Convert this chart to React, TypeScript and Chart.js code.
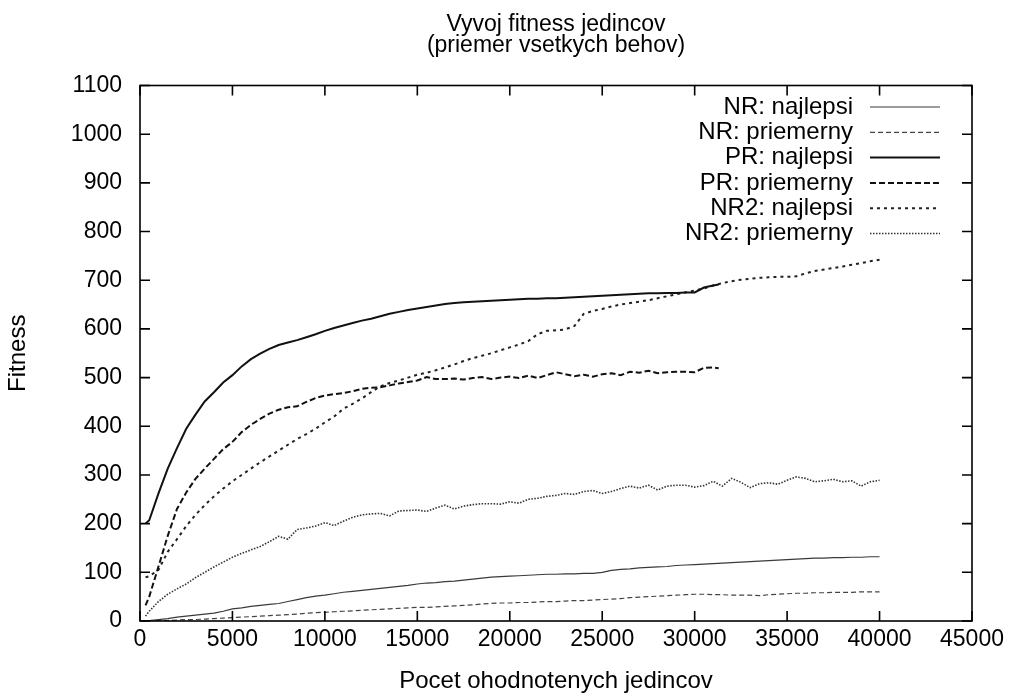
import React, { useEffect, useRef } from 'react';
import { Chart, registerables } from 'chart.js';

Chart.register(...registerables);

const TITLE = ['Vyvoj fitness jedincov', '(priemer vsetkych behov)'];
const X_TITLE = 'Pocet ohodnotenych jedincov';
const Y_TITLE = 'Fitness';
const LABELS = ['NR: najlepsi', 'NR: priemerny', 'PR: najlepsi', 'PR: priemerny', 'NR2: najlepsi', 'NR2: priemerny'];

const X_NR = [
  0, 500, 1000, 1500, 2000, 2500, 3000, 3500, 4000, 4500,
  5000, 5500, 6000, 6500, 7000, 7500, 8000, 8500, 9000, 9500,
  10000, 10500, 11000, 11500, 12000, 12500, 13000, 13500, 14000, 14500,
  15000, 15500, 16000, 16500, 17000, 17500, 18000, 18500, 19000, 19500,
  20000, 20500, 21000, 21500, 22000, 22500, 23000, 23500, 24000, 24500,
  25000, 25500, 26000, 26500, 27000, 27500, 28000, 28500, 29000, 29500,
  30000, 30500, 31000, 31500, 32000, 32500, 33000, 33500, 34000, 34500,
  35000, 35500, 36000, 36500, 37000, 37500, 38000, 38500, 39000, 39500,
  40000,
];

const X_NR2 = [
  300, 500, 1000, 1500, 2000, 2500, 3000, 3500, 4000, 4500,
  5000, 5500, 6000, 6500, 7000, 7500, 8000, 8500, 9000, 9500,
  10000, 10500, 11000, 11500, 12000, 12500, 13000, 13500, 14000, 14500,
  15000, 15500, 16000, 16500, 17000, 17500, 18000, 18500, 19000, 19500,
  20000, 20500, 21000, 21500, 22000, 22500, 23000, 23500, 24000, 24500,
  25000, 25500, 26000, 26500, 27000, 27500, 28000, 28500, 29000, 29500,
  30000, 30500, 31000, 31500, 32000, 32500, 33000, 33500, 34000, 34500,
  35000, 35500, 36000, 36500, 37000, 37500, 38000, 38500, 39000, 39500,
  40000,
];

const X_PR = [
  300, 500, 1000, 1500, 2000, 2500, 3000, 3500, 4000, 4500,
  5000, 5500, 6000, 6500, 7000, 7500, 8000, 8500, 9000, 9500,
  10000, 10500, 11000, 11500, 12000, 12500, 13000, 13500, 14000, 14500,
  15000, 15500, 16000, 16500, 17000, 17500, 18000, 18500, 19000, 19500,
  20000, 20500, 21000, 21500, 22000, 22500, 23000, 23500, 24000, 24500,
  25000, 25500, 26000, 26500, 27000, 27500, 28000, 28500, 29000, 29500,
  30000, 30500, 31000, 31300,
];

const NR_BEST = [
  0, 1, 3, 5, 8, 10, 12, 14, 16, 20,
  25, 27, 30, 32, 34, 36, 40, 44, 48, 51,
  53, 56, 59, 61, 63, 65, 67, 69, 71, 73,
  76, 78, 79, 81, 82, 84, 86, 88, 90, 91,
  92, 93, 94, 95, 96, 96, 97, 97, 98, 98,
  100, 104, 106, 107, 109, 110, 111, 112, 114, 115,
  116, 117, 118, 119, 120, 121, 122, 123, 124, 125,
  126, 127, 128, 129, 129, 130, 130, 131, 131, 132,
  132,
];

const NR_AVG = [
  0, 0, 1, 1, 2, 3, 3, 4, 5, 6,
  7, 8, 9, 10, 11, 12, 13, 14, 16, 17,
  18, 19, 20, 21, 22, 23, 24, 25, 26, 27,
  28, 28, 29, 30, 31, 32, 33, 35, 36, 37,
  37, 38, 38, 39, 40, 40, 41, 42, 42, 43,
  44, 45, 46, 48, 49, 50, 51, 52, 53, 54,
  55, 55, 54, 54, 53, 53, 53, 52, 54, 55,
  56, 57, 57, 58, 58, 59, 59, 59, 60, 60,
  60,
];

const PR_BEST = [
  200, 207, 262, 313, 355, 395, 424, 451, 470, 490,
  505, 523, 538, 549, 559, 567, 572, 577, 583, 589,
  596, 602, 607, 612, 617, 621, 626, 631, 635, 639,
  642, 645, 648, 651, 653, 655, 656, 657, 658, 659,
  660, 661, 662, 662, 663, 663, 664, 665, 666, 667,
  668, 669, 670, 671, 672, 673, 673, 674, 674, 675,
  675, 685, 689, 691,
];

const PR_AVG = [
  32, 50, 112, 175, 230, 264, 292, 313, 333, 353,
  368, 388, 403, 415, 426, 434, 439, 441, 450, 458,
  463, 466, 468, 472, 477, 479, 480, 484, 488, 491,
  494, 501, 497, 497, 498, 496, 499, 501, 497, 500,
  502, 499, 504, 499, 505, 511, 507, 503, 506, 502,
  507, 509, 505, 512, 510, 514, 509, 511, 512, 512,
  511, 520, 521, 519,
];

const NR2_BEST = [
  90, 92, 105, 142, 168, 195, 218, 238, 256, 272,
  287, 300, 313, 326, 338, 350, 362, 374, 384, 395,
  408, 420, 436, 446, 457, 470, 482, 489, 494, 500,
  506, 510, 515, 521, 527, 534, 540, 545, 550, 556,
  562, 568, 575, 589, 596, 597, 599, 606, 631, 637,
  641, 646, 650, 653, 656, 659, 663, 667, 671, 675,
  679, 683, 689, 694, 698, 701, 703, 705, 706, 707,
  707, 708, 714, 719, 722, 725, 728, 732, 735, 739,
  742,
];

const NR2_AVG = [
  10, 20, 40, 55, 66, 76, 89, 100, 111, 121,
  131, 139, 146, 153, 163, 174, 168, 188, 191, 195,
  202, 196, 205, 213, 218, 220, 221, 216, 226, 227,
  228, 225, 232, 238, 230, 236, 239, 241, 241, 240,
  245, 242, 250, 252, 256, 258, 262, 260, 266, 268,
  262, 266, 272, 277, 273, 279, 269, 277, 279, 279,
  275, 278, 287, 277, 293, 285, 274, 282, 284, 281,
  289, 296, 293, 286, 288, 291, 286, 288, 277, 286,
  289,
];

const FONT = '"Liberation Sans", Arial, Helvetica, sans-serif';

const pts = (xs: number[], ys: number[]) => xs.map((x, i) => ({ x, y: ys[i] }));

const framePlugin = {
  id: 'gnuFrame',
  afterDatasetsDraw(chart: any) {
    const { ctx, chartArea: a, scales } = chart;
    const xs = scales.x;
    const ys = scales.y;
    ctx.save();
    ctx.strokeStyle = '#000';
    ctx.lineWidth = 1.6;
    ctx.setLineDash([]);
    ctx.strokeRect(a.left, a.top, a.right - a.left, a.bottom - a.top);
    ctx.beginPath();
    xs.ticks.forEach((t: any) => {
      const px = xs.getPixelForValue(t.value);
      ctx.moveTo(px, a.bottom);
      ctx.lineTo(px, a.bottom - 10);
      ctx.moveTo(px, a.top);
      ctx.lineTo(px, a.top + 10);
    });
    ys.ticks.forEach((t: any) => {
      const py = ys.getPixelForValue(t.value);
      ctx.moveTo(a.left, py);
      ctx.lineTo(a.left + 10, py);
      ctx.moveTo(a.right, py);
      ctx.lineTo(a.right - 10, py);
    });
    ctx.stroke();
    ctx.restore();
  },
};

const legendPlugin = {
  id: 'gnuLegend',
  afterDraw(chart: any) {
    const { ctx, chartArea: a } = chart;
    ctx.save();
    ctx.font = `24px ${FONT}`;
    ctx.textAlign = 'right';
    ctx.textBaseline = 'middle';
    chart.data.datasets.forEach((ds: any, i: number) => {
      const y = a.top + 21.5 + i * 25.3;
      ctx.fillStyle = '#000';
      ctx.fillText(ds.label, a.right - 119, y);
      ctx.strokeStyle = ds.borderColor;
      ctx.lineWidth = ds.borderWidth;
      ctx.setLineDash(ds.borderDash || []);
      ctx.beginPath();
      ctx.moveTo(a.right - 102, y);
      ctx.lineTo(a.right - 32, y);
      ctx.stroke();
      ctx.setLineDash([]);
    });
    ctx.restore();
  },
};

export default function App() {
  const ref = useRef<HTMLCanvasElement | null>(null);

  useEffect(() => {
    document.body.style.margin = '0';
    const canvas = ref.current;
    if (!canvas) return;
    const common = { pointRadius: 0, pointHoverRadius: 0, tension: 0, fill: false, backgroundColor: 'transparent' };
    const chart = new Chart(canvas, {
      type: 'line',
      data: {
        datasets: [
          { ...common, label: LABELS[0], data: pts(X_NR, NR_BEST), borderColor: '#3a3a3a', borderWidth: 1.2, borderDash: [] },
          { ...common, label: LABELS[1], data: pts(X_NR, NR_AVG), borderColor: '#444', borderWidth: 1.2, borderDash: [5, 3] },
          { ...common, label: LABELS[2], data: pts(X_PR, PR_BEST), borderColor: '#111', borderWidth: 2, borderDash: [] },
          { ...common, label: LABELS[3], data: pts(X_PR, PR_AVG), borderColor: '#111', borderWidth: 2, borderDash: [6, 3] },
          { ...common, label: LABELS[4], data: pts(X_NR2, NR2_BEST), borderColor: '#222', borderWidth: 2, borderDash: [3, 4] },
          { ...common, label: LABELS[5], data: pts(X_NR2, NR2_AVG), borderColor: '#333', borderWidth: 1.6, borderDash: [1.5, 1.5] },
        ] as any,
      },
      options: {
        responsive: false,
        animation: false,
        events: [],
        layout: { padding: { left: 0, right: 38, top: 0, bottom: 0 } },
        plugins: {
          legend: { display: false },
          tooltip: { enabled: false },
          title: {
            display: true,
            text: TITLE,
            fullSize: false,
            color: '#000',
            font: { family: FONT, size: 23, weight: 'normal', lineHeight: 21 / 23 },
            padding: { top: 14, bottom: 29.5 },
          },
        },
        scales: {
          x: {
            type: 'linear',
            min: 0,
            max: 45000,
            grid: { display: false, drawTicks: false },
            border: { display: false },
            ticks: {
              stepSize: 5000, color: '#000', padding: 5, font: { family: FONT, size: 23 }, maxRotation: 0, autoSkip: false,
              callback: (v: any) => String(v),
            },
            title: { display: true, text: X_TITLE, color: '#000', font: { family: FONT, size: 24, lineHeight: 1 }, padding: { top: 0, bottom: 4 } },
            afterFit: (s: any) => { s.height = 76; },
          },
          y: {
            type: 'linear',
            min: 0,
            max: 1100,
            grid: { display: false, drawTicks: false },
            border: { display: false },
            ticks: {
              stepSize: 100, color: '#000', padding: 18, font: { family: FONT, size: 23 }, autoSkip: false,
              callback: (v: any) => String(v),
            },
            title: { display: true, text: Y_TITLE, color: '#000', font: { family: FONT, size: 24, lineHeight: 1 }, padding: { top: 6.5, bottom: 0 } },
            afterFit: (s: any) => { s.width = 140; },
          },
        },
      } as any,
      plugins: [framePlugin, legendPlugin],
    });
    return () => chart.destroy();
  }, []);

  return (
    <div style={{ width: 1010, height: 697, background: '#fff' }}>
      <canvas ref={ref} width={1010} height={697} style={{ display: 'block' }} />
    </div>
  );
}
